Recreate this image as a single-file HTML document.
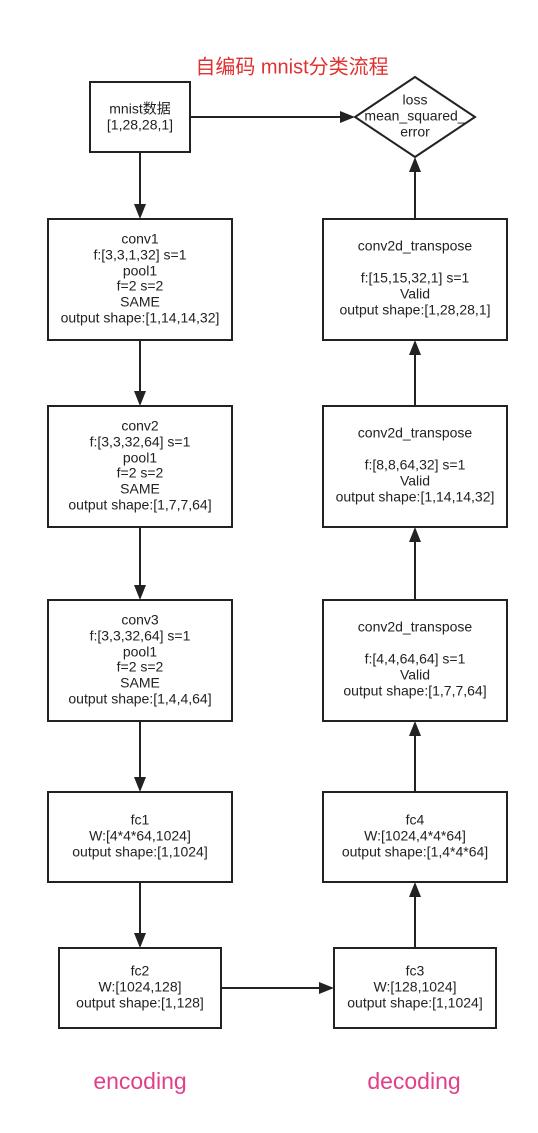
<!DOCTYPE html>
<html><head><meta charset="utf-8"><style>
html,body{margin:0;padding:0;background:#fff}
svg{display:block}
text{font-family:"Liberation Sans","Noto Sans CJK SC",sans-serif;font-size:14px;fill:#222;text-anchor:middle;dominant-baseline:middle}
.b{fill:#fff;stroke:#222;stroke-width:2}
.l{stroke:#222;stroke-width:2;fill:none}
.a{fill:#222}
</style></head><body>
<svg width="538" height="1133" viewBox="0 0 538 1133" xmlns="http://www.w3.org/2000/svg">
<text x="292" y="68" style="font-size:20px;fill:#e03030">自编码 mnist分类流程</text>

<rect class="b" x="90" y="82" width="100" height="70"/>
<text x="140" y="110">mnist数据</text><text x="140" y="126">[1,28,28,1]</text>

<polygon class="b" points="415,77 475,117 415,157 355,117"/>
<text x="415" y="101">loss</text><text x="415" y="117">mean_squared_</text><text x="415" y="133">error</text>

<rect class="b" x="48" y="219" width="184" height="121"/>
<text x="140" y="240">conv1</text><text x="140" y="256">f:[3,3,1,32] s=1</text><text x="140" y="272">pool1</text><text x="140" y="287">f=2 s=2</text><text x="140" y="303">SAME</text><text x="140" y="319">output shape:[1,14,14,32]</text>

<rect class="b" x="48" y="406" width="184" height="121"/>
<text x="140" y="427">conv2</text><text x="140" y="443">f:[3,3,32,64] s=1</text><text x="140" y="459">pool1</text><text x="140" y="474">f=2 s=2</text><text x="140" y="490">SAME</text><text x="140" y="506">output shape:[1,7,7,64]</text>

<rect class="b" x="48" y="600" width="184" height="121"/>
<text x="140" y="621">conv3</text><text x="140" y="637">f:[3,3,32,64] s=1</text><text x="140" y="653">pool1</text><text x="140" y="668">f=2 s=2</text><text x="140" y="684">SAME</text><text x="140" y="700">output shape:[1,4,4,64]</text>

<rect class="b" x="48" y="792" width="184" height="90"/>
<text x="140" y="821">fc1</text><text x="140" y="837">W:[4*4*64,1024]</text><text x="140" y="853">output shape:[1,1024]</text>

<rect class="b" x="59" y="948" width="162" height="80"/>
<text x="140" y="972">fc2</text><text x="140" y="988">W:[1024,128]</text><text x="140" y="1004">output shape:[1,128]</text>

<rect class="b" x="323" y="219" width="184" height="121"/>
<text x="415" y="247">conv2d_transpose</text><text x="415" y="279">f:[15,15,32,1] s=1</text><text x="415" y="295">Valid</text><text x="415" y="311">output shape:[1,28,28,1]</text>

<rect class="b" x="323" y="406" width="184" height="121"/>
<text x="415" y="434">conv2d_transpose</text><text x="415" y="466">f:[8,8,64,32] s=1</text><text x="415" y="482">Valid</text><text x="415" y="498">output shape:[1,14,14,32]</text>

<rect class="b" x="323" y="600" width="184" height="121"/>
<text x="415" y="628">conv2d_transpose</text><text x="415" y="660">f:[4,4,64,64] s=1</text><text x="415" y="676">Valid</text><text x="415" y="692">output shape:[1,7,7,64]</text>

<rect class="b" x="323" y="792" width="184" height="90"/>
<text x="415" y="821">fc4</text><text x="415" y="837">W:[1024,4*4*64]</text><text x="415" y="853">output shape:[1,4*4*64]</text>

<rect class="b" x="334" y="948" width="162" height="80"/>
<text x="415" y="972">fc3</text><text x="415" y="988">W:[128,1024]</text><text x="415" y="1004">output shape:[1,1024]</text>

<line class="l" x1="190" y1="117" x2="342" y2="117"/><polygon class="a" points="355,117 340,111 340,123"/>
<line class="l" x1="140" y1="152" x2="140" y2="206"/><polygon class="a" points="140,219 134,204 146,204"/>
<line class="l" x1="140" y1="340" x2="140" y2="393"/><polygon class="a" points="140,406 134,391 146,391"/>
<line class="l" x1="140" y1="527" x2="140" y2="587"/><polygon class="a" points="140,600 134,585 146,585"/>
<line class="l" x1="140" y1="721" x2="140" y2="779"/><polygon class="a" points="140,792 134,777 146,777"/>
<line class="l" x1="140" y1="882" x2="140" y2="935"/><polygon class="a" points="140,948 134,933 146,933"/>
<line class="l" x1="221" y1="988" x2="321" y2="988"/><polygon class="a" points="334,988 319,982 319,994"/>
<line class="l" x1="415" y1="948" x2="415" y2="895"/><polygon class="a" points="415,882 409,897 421,897"/>
<line class="l" x1="415" y1="792" x2="415" y2="734"/><polygon class="a" points="415,721 409,736 421,736"/>
<line class="l" x1="415" y1="600" x2="415" y2="540"/><polygon class="a" points="415,527 409,542 421,542"/>
<line class="l" x1="415" y1="406" x2="415" y2="353"/><polygon class="a" points="415,340 409,355 421,355"/>
<line class="l" x1="415" y1="219" x2="415" y2="170"/><polygon class="a" points="415,157 409,172 421,172"/>

<text x="140" y="1083" style="font-size:23px;fill:#e0408a">encoding</text>
<text x="414" y="1083" style="font-size:23px;fill:#e0408a">decoding</text>
</svg>
</body></html>
